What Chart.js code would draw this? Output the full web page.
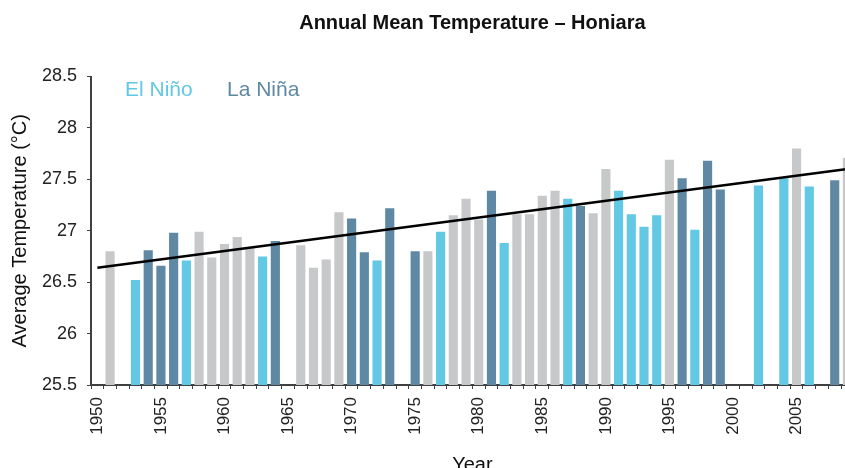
<!DOCTYPE html>
<html>
<head>
<meta charset="utf-8">
<script src="https://cdn.jsdelivr.net/npm/chart.js@4"></script>
<style>
  html, body { margin: 0; padding: 0; background: #fff; }
  #wrap { width: 845px; height: 468px; overflow: hidden; position: relative; }
</style>
</head>
<body>
<div id="wrap"><canvas id="tempChart" width="876" height="480"></canvas></div>
<script>
const years = [];
for (let y = 1950; y <= 2009; y++) years.push(String(y));

// annual mean temperature (°C), null = no data
const temps = [
  null, 26.80, null, 26.52, 26.81, 26.66, 26.98, 26.71, 26.99, 26.74,
  26.87, 26.94, 26.83, 26.75, 26.90, null, 26.86, 26.64, 26.72, 27.18,
  27.12, 26.79, 26.71, 27.22, null, 26.80, 26.80, 26.99, 27.15, 27.31,
  27.11, 27.39, 26.88, 27.16, 27.16, 27.34, 27.39, 27.31, 27.24, 27.17,
  27.60, 27.39, 27.16, 27.04, 27.15, 27.69, 27.51, 27.01, 27.68, 27.40,
  null, null, 27.44, null, 27.51, 27.80, 27.43, null, 27.49, 27.71
];

// E = El Niño, L = La Niña, N = neutral
const phase = [
  'N','N','N','E','L','L','L','E','N','N',
  'N','N','N','E','L','N','N','N','N','N',
  'L','L','E','L','N','L','N','E','N','N',
  'N','L','E','N','N','N','N','E','L','N',
  'N','E','E','E','E','N','L','E','L','L',
  'N','N','E','N','E','N','E','N','L','N'
];

// linear trend, endpoints
const trend = years.map(() => null);
trend[0] = 26.64;
trend[59] = 27.60;

const yTicks = [25.5, 26, 26.5, 27, 27.5, 28, 28.5];

const phaseColors = { E: '#62c8e3', L: '#5e88a3', N: '#c7c8ca' };
const font = '"Liberation Sans", Arial, sans-serif';
const axisColor = '#404040';

const legendText = {
  id: 'legendText',
  afterDraw(chart) {
    const ctx = chart.ctx;
    ctx.save();
    ctx.font = '21px ' + font;
    ctx.textBaseline = 'alphabetic';
    ctx.fillStyle = phaseColors.E;
    ctx.fillText('El Niño', 125, 96);
    ctx.fillStyle = phaseColors.L;
    ctx.fillText('La Niña', 227, 96);
    ctx.restore();
  }
};

new Chart(document.getElementById('tempChart'), {
  type: 'bar',
  data: {
    labels: years,
    datasets: [{
      type: 'line',
      data: trend,
      spanGaps: true,
      borderColor: '#000',
      borderWidth: 2.5,
      pointRadius: 0,
      fill: false,
      order: 0
    }, {
      data: temps,
      backgroundColor: phase.map(p => phaseColors[p]),
      categoryPercentage: 1,
      barPercentage: 0.72,
      order: 1
    }]
  },
  options: {
    responsive: false,
    animation: false,
    layout: { padding: 0 },
    plugins: {
      legend: { display: false },
      tooltip: { enabled: false },
      title: {
        display: true,
        text: 'Annual Mean Temperature – Honiara',
        fullSize: false,
        color: '#111',
        font: { family: font, size: 20, weight: 'bold' },
        padding: { top: 11, bottom: 41.5 }
      }
    },
    scales: {
      x: {
        z: 1,
        afterFit: s => { s.height = 95; },
        grid: {
          offset: true,
          drawOnChartArea: false,
          drawTicks: true,
          tickLength: 4,
          color: axisColor
        },
        border: { color: axisColor, width: 2 },
        ticks: {
          autoSkip: false,
          maxRotation: 90,
          minRotation: 90,
          padding: 8,
          color: '#222',
          font: { family: font, size: 17 },
          callback: function (v, i) {
            const y = Number(years[i]);
            return y % 5 === 0 ? years[i] : '';
          }
        },
        title: {
          display: true,
          text: 'Year',
          color: '#111',
          font: { family: font, size: 20 },
          padding: { top: 0, bottom: 3 }
        }
      },
      y: {
        z: 1,
        min: 25.5,
        max: 28.5,
        afterFit: s => { s.width = 91; },
        afterBuildTicks: s => { s.ticks = yTicks.map(v => ({ value: v })); },
        grid: {
          drawOnChartArea: false,
          drawTicks: true,
          tickLength: 4,
          color: axisColor
        },
        border: { color: axisColor, width: 2 },
        ticks: {
          padding: 10,
          color: '#222',
          font: { family: font, size: 18 },
          callback: v => String(v)
        },
        title: {
          display: true,
          text: 'Average Temperature (°C)',
          color: '#111',
          font: { family: font, size: 20 },
          padding: { top: 8, bottom: 0 }
        }
      }
    }
  },
  plugins: [legendText]
});
</script>
</body>
</html>
